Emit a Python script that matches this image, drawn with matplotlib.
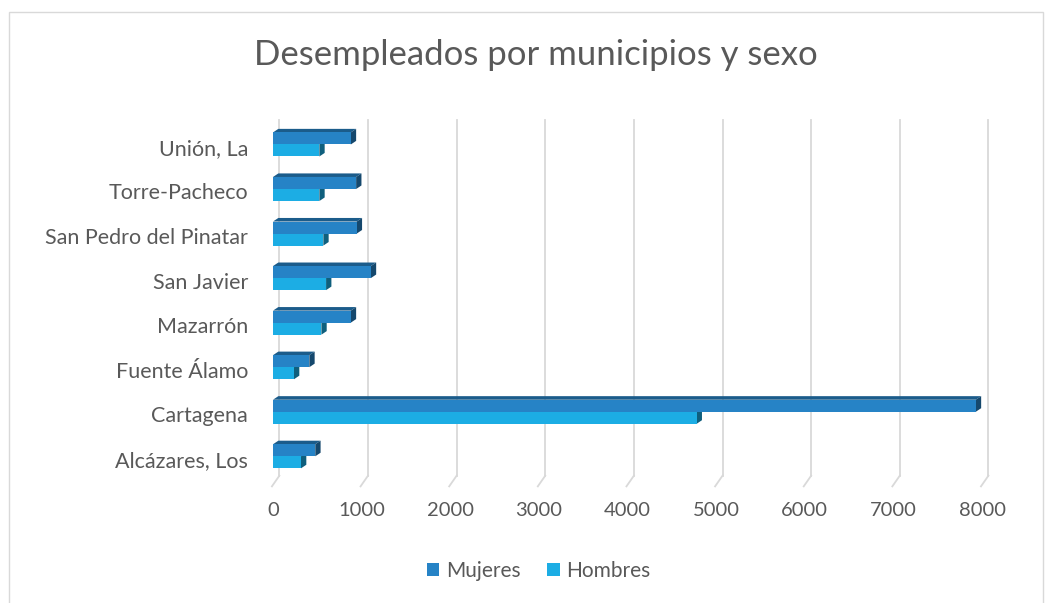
"""Desempleados por municipios y sexo - 3D-ish horizontal bar chart."""
import matplotlib
matplotlib.use("Agg")
import matplotlib.pyplot as plt
from matplotlib.patches import Polygon, Rectangle
import numpy as np

municipios = ["Alcázares, Los", "Cartagena", "Fuente Álamo", "Mazarrón",
              "San Javier", "San Pedro del Pinatar", "Torre-Pacheco", "Unión, La"]
mujeres = [477, 7930, 410, 878, 1104, 945, 938, 878]
hombres = [316, 4780, 237, 546, 599, 568, 523, 523]
x_ticks = [0, 1000, 2000, 3000, 4000, 5000, 6000, 7000, 8000]

C_MUJ = "#2683C6"
C_HOM = "#1CADE4"
TXT = "#595959"

plt.rcParams["font.family"] = ["Lato", "DejaVu Sans"]

fig = plt.figure(figsize=(10.52, 6.03), dpi=100)
ax = fig.add_axes([0.2595, 0.2023, 0.674, 0.591])

# depth of the fake 3D extrusion, in data units
dx, dy = 60, 0.08
h = 0.27
y = np.arange(len(municipios))


def shade(c, f):
    rgb = np.array(matplotlib.colors.to_rgb(c))
    return tuple(rgb * f)


def bar3d(yc, v, color, z):
    bot, top = yc - h / 2, yc + h / 2
    ax.add_patch(Polygon([(0, top), (v, top), (v + dx, top + dy), (dx, top + dy)],
                         closed=True, fc=shade(color, 0.7), ec="none", zorder=z))
    ax.add_patch(Polygon([(v, bot), (v, top), (v + dx, top + dy), (v + dx, bot + dy)],
                         closed=True, fc=shade(color, 0.55), ec="none", zorder=z))
    ax.add_patch(Rectangle((0, bot), v, h, fc=color, ec="none", zorder=z + 0.1))


for i in range(len(municipios)):
    bar3d(y[i] - 0.08, hombres[i], C_HOM, 3)
    bar3d(y[i] + 0.19, mujeres[i], C_MUJ, 4)

ax.set_xlim(0, 8000)
ax.set_ylim(-0.5, 7.5)

# back-wall gridlines with slanted foot
for t in x_ticks:
    ax.plot([t + dx * 1.2, t + dx * 1.2], [-0.5 + dy * 1.5, 7.6], color="#D9D9D9",
            lw=1.3, zorder=1, clip_on=False)
    ax.plot([t - dx * 0.2, t + dx * 1.2], [-0.62, -0.5 + dy * 1.5], color="#D9D9D9",
            lw=1.3, zorder=1, clip_on=False)

ax.set_xticks(x_ticks)
ax.set_xticklabels([str(t) for t in x_ticks])
ax.set_yticks(y)
ax.set_yticklabels(municipios)
ax.tick_params(axis="both", length=0, colors=TXT)
ax.tick_params(axis="x", pad=15, labelsize=14.5)
ax.tick_params(axis="y", pad=18, labelsize=15.5)
for s in ax.spines.values():
    s.set_visible(False)
ax.patch.set_alpha(0)

fig.text(0.509, 0.908, "Desempleados por municipios y sexo", ha="center", va="center",
         fontsize=25, color=TXT)

handles = [Rectangle((0, 0), 1, 1, fc=C_MUJ), Rectangle((0, 0), 1, 1, fc=C_HOM)]
fig.legend(handles, ["Mujeres", "Hombres"], loc="center", bbox_to_anchor=(0.512, 0.053),
           ncol=2, frameon=False, fontsize=15, labelcolor=TXT, handlelength=0.6,
           handleheight=0.6, handletextpad=0.3, columnspacing=1.3)

fig.add_artist(Rectangle((9 / 1052, -0.02), 1034 / 1052, 0.005 + 594 / 603 + 0.01,
                         transform=fig.transFigure, fill=False, ec="#D9D9D9", lw=1))

fig.savefig("out.png", dpi=100)
